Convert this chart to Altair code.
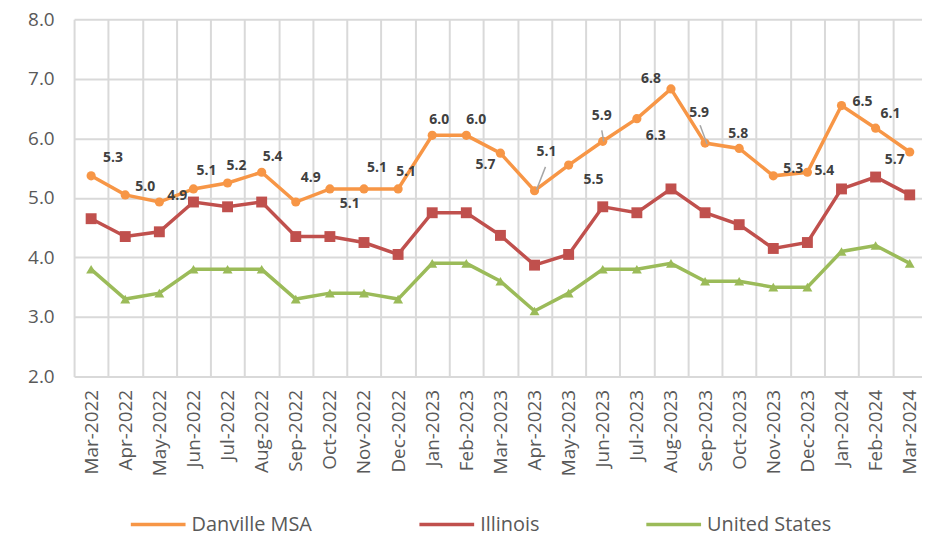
import json
import altair as alt
import pandas as pd

months = [
    "Mar-2022", "Apr-2022", "May-2022", "Jun-2022", "Jul-2022", "Aug-2022",
    "Sep-2022", "Oct-2022", "Nov-2022", "Dec-2022", "Jan-2023", "Feb-2023",
    "Mar-2023", "Apr-2023", "May-2023", "Jun-2023", "Jul-2023", "Aug-2023",
    "Sep-2023", "Oct-2023", "Nov-2023", "Dec-2023", "Jan-2024", "Feb-2024",
    "Mar-2024",
]
danville = [5.37, 5.05, 4.93, 5.15, 5.25, 5.43, 4.93, 5.15, 5.15, 5.15,
            6.05, 6.05, 5.75, 5.12, 5.55, 5.95, 6.33, 6.83, 5.92, 5.83,
            5.37, 5.43, 6.55, 6.17, 5.77]
illinois = [4.65, 4.35, 4.43, 4.93, 4.85, 4.93, 4.35, 4.35, 4.25, 4.05,
            4.75, 4.75, 4.37, 3.87, 4.05, 4.85, 4.75, 5.15, 4.75, 4.55,
            4.15, 4.25, 5.15, 5.35, 5.05]
united_states = [3.8, 3.3, 3.4, 3.8, 3.8, 3.8, 3.3, 3.4, 3.4, 3.3,
                 3.9, 3.9, 3.6, 3.1, 3.4, 3.8, 3.8, 3.9, 3.6, 3.6,
                 3.5, 3.5, 4.1, 4.2, 3.9]
series_names = ["Danville MSA", "Illinois", "United States"]
series_colors = ["#F79646", "#C0504D", "#9BBB59"]
y_ticks = [2, 3, 4, 5, 6, 7, 8]

# placement of the Danville data labels (pixel offsets from each point)
label_dx = [22, 20, 18, 13, 9, 11, 15, 20, 13, 8, 7, 10, -15, 12, 25, -1, 19, -20, -6, -1, 20, 17, 21, 15, -15]
label_dy = [-18, -8, -6, -18, -17, -15, -24, 15, -21, -17, -15, -15, 12, -39, 15, -25, 17, -10, -30, -15, -7, -1, -4, -14, 8]

# leader lines (month index, pixel offsets of both ends from the point)
leader_i = [13, 15, 18]
leader_x0 = [2, 1, 2]
leader_y0 = [-1, 0, 1]
leader_x1 = [11, -1, -5]
leader_y1 = [-24, -11, -18]

PX_X = 34.27
PX_Y = 60.0
FONT = "Open Sans"
GRID = "#d9d9d9"
TXT = "#595959"

rows = []
for name, vals in zip(series_names, [danville, illinois, united_states]):
    for i, (m, v) in enumerate(zip(months, vals)):
        rows.append({"i": i, "month": m, "series": name, "value": v})
df = pd.DataFrame(rows)

lab = pd.DataFrame({"i": list(range(len(months))), "value": danville,
                    "dx": label_dx, "dy": label_dy})
lead = pd.DataFrame({"i": leader_i, "value": [danville[k] for k in leader_i],
                     "x0": leader_x0, "y0": leader_y0, "x1": leader_x1, "y1": leader_y1})

xscale = alt.Scale(domain=[-0.5, 24.36], nice=False, zero=False)
yscale = alt.Scale(domain=[2, 8], nice=False, zero=False)

x_axis = alt.Axis(
    values=[k - 0.5 for k in range(len(months))],
    tickCount=60,
    labelExpr=f"{json.dumps(months)}[round(datum.value + 0.5)]",
    labelAngle=270, labelOffset=PX_X / 2, labelPadding=13,
    labelFont=FONT, labelFontSize=19, labelColor=TXT,
    ticks=False, domain=False, grid=True, gridColor=GRID, gridWidth=2,
    labelOverlap=False, labelFlush=False, labelBound=False, title=None,
)
y_axis = alt.Axis(
    values=y_ticks, tickCount=20, format=".1f", labelFont=FONT, labelFontSize=19,
    labelColor=TXT, labelPadding=20, ticks=False, domain=False,
    grid=True, gridColor=GRID, gridWidth=2, title=None,
)

base = alt.Chart(df)
lines = base.mark_line(strokeWidth=3.5).encode(
    x=alt.X("i:Q", scale=xscale, axis=x_axis),
    y=alt.Y("value:Q", scale=yscale, axis=y_axis),
    color=alt.Color(
        "series:N",
        scale=alt.Scale(domain=series_names, range=series_colors),
        legend=alt.Legend(
            orient="none", legendX=55, legendY=478, direction="horizontal",
            columns=3, title=None, symbolType="stroke", symbolSize=3025,
            symbolStrokeWidth=3.5, labelFont=FONT, labelFontSize=20,
            labelColor=TXT, labelOffset=4, columnPadding=100,
        ),
    ),
    detail="series:N",
)

shapes = ["circle", "square", "triangle-up"]
sizes = [85, 120, 100]
point_layers = []
for name, col, shp, sz in zip(series_names, series_colors, shapes, sizes):
    point_layers.append(
        base.transform_filter(alt.datum.series == name)
        .mark_point(filled=True, opacity=1, shape=shp, size=sz, color=col)
        .encode(x=alt.X("i:Q", scale=xscale), y=alt.Y("value:Q", scale=yscale))
    )

leaders = alt.Chart(lead).transform_calculate(
    xa=f"datum.i + datum.x0 / {PX_X}",
    xb=f"datum.i + datum.x1 / {PX_X}",
    ya=f"datum.value - datum.y0 / {PX_Y}",
    yb=f"datum.value - datum.y1 / {PX_Y}",
).mark_rule(color="#a6a6a6", strokeWidth=1.5).encode(
    x=alt.X("xa:Q", scale=xscale), x2="xb:Q",
    y=alt.Y("ya:Q", scale=yscale), y2="yb:Q",
)

labels = alt.Chart(lab).transform_calculate(
    tx=f"datum.i + datum.dx / {PX_X}",
    ty=f"datum.value - datum.dy / {PX_Y}",
    txt="format(floor(datum.value * 10) / 10, '.1f')",
).mark_text(font=FONT, fontSize=14, fontWeight="bold", color="#404040").encode(
    x=alt.X("tx:Q", scale=xscale),
    y=alt.Y("ty:Q", scale=yscale),
    text="txt:N",
)

chart = alt.layer(lines, *point_layers, leaders, labels).properties(
    width=852, height=359,
    autosize=alt.AutoSizeParams(type="none"),
    padding={"left": 66.4, "top": 10, "right": 0, "bottom": 160},
    background="white",
).configure_view(stroke=None)

chart.save("out.html", embed_options={"renderer": "svg", "actions": False})
